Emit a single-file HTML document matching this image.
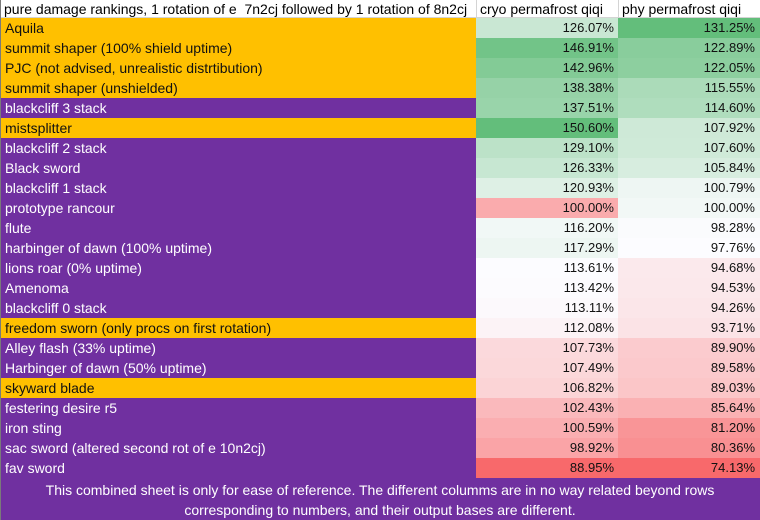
<!DOCTYPE html>
<html><head><meta charset="utf-8"><style>
html,body{margin:0;padding:0;}
body{width:760px;height:520px;overflow:hidden;background:#fff;position:relative;font-family:"Liberation Sans",sans-serif;font-size:14px;}
.r{position:absolute;left:0;width:760px;height:20px;}
.a{position:absolute;left:0;top:0;width:476px;height:20px;line-height:20px;padding-left:5px;box-sizing:border-box;white-space:nowrap;}
.b,.c{position:absolute;top:0;width:142px;height:20px;line-height:20px;text-align:right;box-sizing:border-box;color:#111;font-size:13px;}
.b{left:476px;padding-right:4px;}
.c{left:618px;padding-right:5px;}
.o{background:#FFC000;color:#111;}
.p{background:#7030A0;color:#fff;}
.hd{position:absolute;top:0;left:0;width:760px;height:18px;line-height:18px;border-bottom:1px solid #d4d4d4;box-sizing:border-box;}
.hd span{position:absolute;top:0;white-space:pre;}
.vl{position:absolute;top:0;width:1px;height:18px;background:#d4d4d4;}
.ft{position:absolute;left:0;top:478px;width:760px;height:42px;background:#7030A0;color:#fff;text-align:center;line-height:20px;padding-top:2px;box-sizing:border-box;}
.lb{position:absolute;left:0;top:0;width:1px;height:520px;background:#7a7a7a;}
</style></head><body>
<div class="hd">
<div class="vl" style="left:476px"></div>
<div class="vl" style="left:618px"></div>
<span style="left:4px">pure damage rankings, 1 rotation of e  7n2cj followed by 1 rotation of 8n2cj</span>
<span style="left:480px">cryo permafrost qiqi</span>
<span style="left:622px">phy permafrost qiqi</span>
</div>

<div class="r" style="top:18px"><div class="a o">Aquila</div><div class="b" style="background:rgb(201,231,211)">126.07%</div><div class="c" style="background:rgb(99,190,123)">131.25%</div></div>
<div class="r" style="top:38px"><div class="a o">summit shaper (100% shield uptime)</div><div class="b" style="background:rgb(114,196,136)">146.91%</div><div class="c" style="background:rgb(137,205,156)">122.89%</div></div>
<div class="r" style="top:58px"><div class="a o">PJC (not advised, unrealistic distrtibution)</div><div class="b" style="background:rgb(131,203,150)">142.96%</div><div class="c" style="background:rgb(141,207,159)">122.05%</div></div>
<div class="r" style="top:78px"><div class="a o">summit shaper (unshielded)</div><div class="b" style="background:rgb(150,210,167)">138.38%</div><div class="c" style="background:rgb(171,219,185)">115.55%</div></div>
<div class="r" style="top:98px"><div class="a p">blackcliff 3 stack</div><div class="b" style="background:rgb(153,212,170)">137.51%</div><div class="c" style="background:rgb(175,221,189)">114.60%</div></div>
<div class="r" style="top:118px"><div class="a o">mistsplitter</div><div class="b" style="background:rgb(99,190,123)">150.60%</div><div class="c" style="background:rgb(206,233,215)">107.92%</div></div>
<div class="r" style="top:138px"><div class="a p">blackcliff 2 stack</div><div class="b" style="background:rgb(188,226,200)">129.10%</div><div class="c" style="background:rgb(207,234,216)">107.60%</div></div>
<div class="r" style="top:158px"><div class="a p">Black sword</div><div class="b" style="background:rgb(199,231,210)">126.33%</div><div class="c" style="background:rgb(215,237,223)">105.84%</div></div>
<div class="r" style="top:178px"><div class="a p">blackcliff 1 stack</div><div class="b" style="background:rgb(222,240,229)">120.93%</div><div class="c" style="background:rgb(238,246,243)">100.79%</div></div>
<div class="r" style="top:198px"><div class="a p">prototype rancour</div><div class="b" style="background:rgb(250,171,173)">100.00%</div><div class="c" style="background:rgb(242,248,246)">100.00%</div></div>
<div class="r" style="top:218px"><div class="a p">flute</div><div class="b" style="background:rgb(241,248,246)">116.20%</div><div class="c" style="background:rgb(250,251,253)">98.28%</div></div>
<div class="r" style="top:238px"><div class="a p">harbinger of dawn (100% uptime)</div><div class="b" style="background:rgb(237,246,242)">117.29%</div><div class="c" style="background:rgb(252,252,255)">97.76%</div></div>
<div class="r" style="top:258px"><div class="a p">lions roar (0% uptime)</div><div class="b" style="background:rgb(252,252,255)">113.61%</div><div class="c" style="background:rgb(251,233,236)">94.68%</div></div>
<div class="r" style="top:278px"><div class="a p">Amenoma</div><div class="b" style="background:rgb(252,251,254)">113.42%</div><div class="c" style="background:rgb(251,232,235)">94.53%</div></div>
<div class="r" style="top:298px"><div class="a p">blackcliff 0 stack</div><div class="b" style="background:rgb(252,249,252)">113.11%</div><div class="c" style="background:rgb(251,230,233)">94.26%</div></div>
<div class="r" style="top:318px"><div class="a o">freedom sworn (only procs on first rotation)</div><div class="b" style="background:rgb(252,243,246)">112.08%</div><div class="c" style="background:rgb(251,227,230)">93.71%</div></div>
<div class="r" style="top:338px"><div class="a p">Alley flash (33% uptime)</div><div class="b" style="background:rgb(251,217,220)">107.73%</div><div class="c" style="background:rgb(251,203,206)">89.90%</div></div>
<div class="r" style="top:358px"><div class="a p">Harbinger of dawn (50% uptime)</div><div class="b" style="background:rgb(251,216,218)">107.49%</div><div class="c" style="background:rgb(251,201,204)">89.58%</div></div>
<div class="r" style="top:378px"><div class="a o">skyward blade</div><div class="b" style="background:rgb(251,212,214)">106.82%</div><div class="c" style="background:rgb(251,198,200)">89.03%</div></div>
<div class="r" style="top:398px"><div class="a p">festering desire r5</div><div class="b" style="background:rgb(250,185,188)">102.43%</div><div class="c" style="background:rgb(250,177,179)">85.64%</div></div>
<div class="r" style="top:418px"><div class="a p">iron sting</div><div class="b" style="background:rgb(250,174,177)">100.59%</div><div class="c" style="background:rgb(249,149,151)">81.20%</div></div>
<div class="r" style="top:438px"><div class="a p">sac sword (altered second rot of e 10n2cj)</div><div class="b" style="background:rgb(250,164,167)">98.92%</div><div class="c" style="background:rgb(249,144,146)">80.36%</div></div>
<div class="r" style="top:458px"><div class="a p">fav sword</div><div class="b" style="background:rgb(248,105,107)">88.95%</div><div class="c" style="background:rgb(248,105,107)">74.13%</div></div>

<div class="ft">This combined sheet is only for ease of reference. The different columms are in no way related beyond rows<br>corresponding to numbers, and their output bases are different.</div>
<div class="lb"></div>
</body></html>
